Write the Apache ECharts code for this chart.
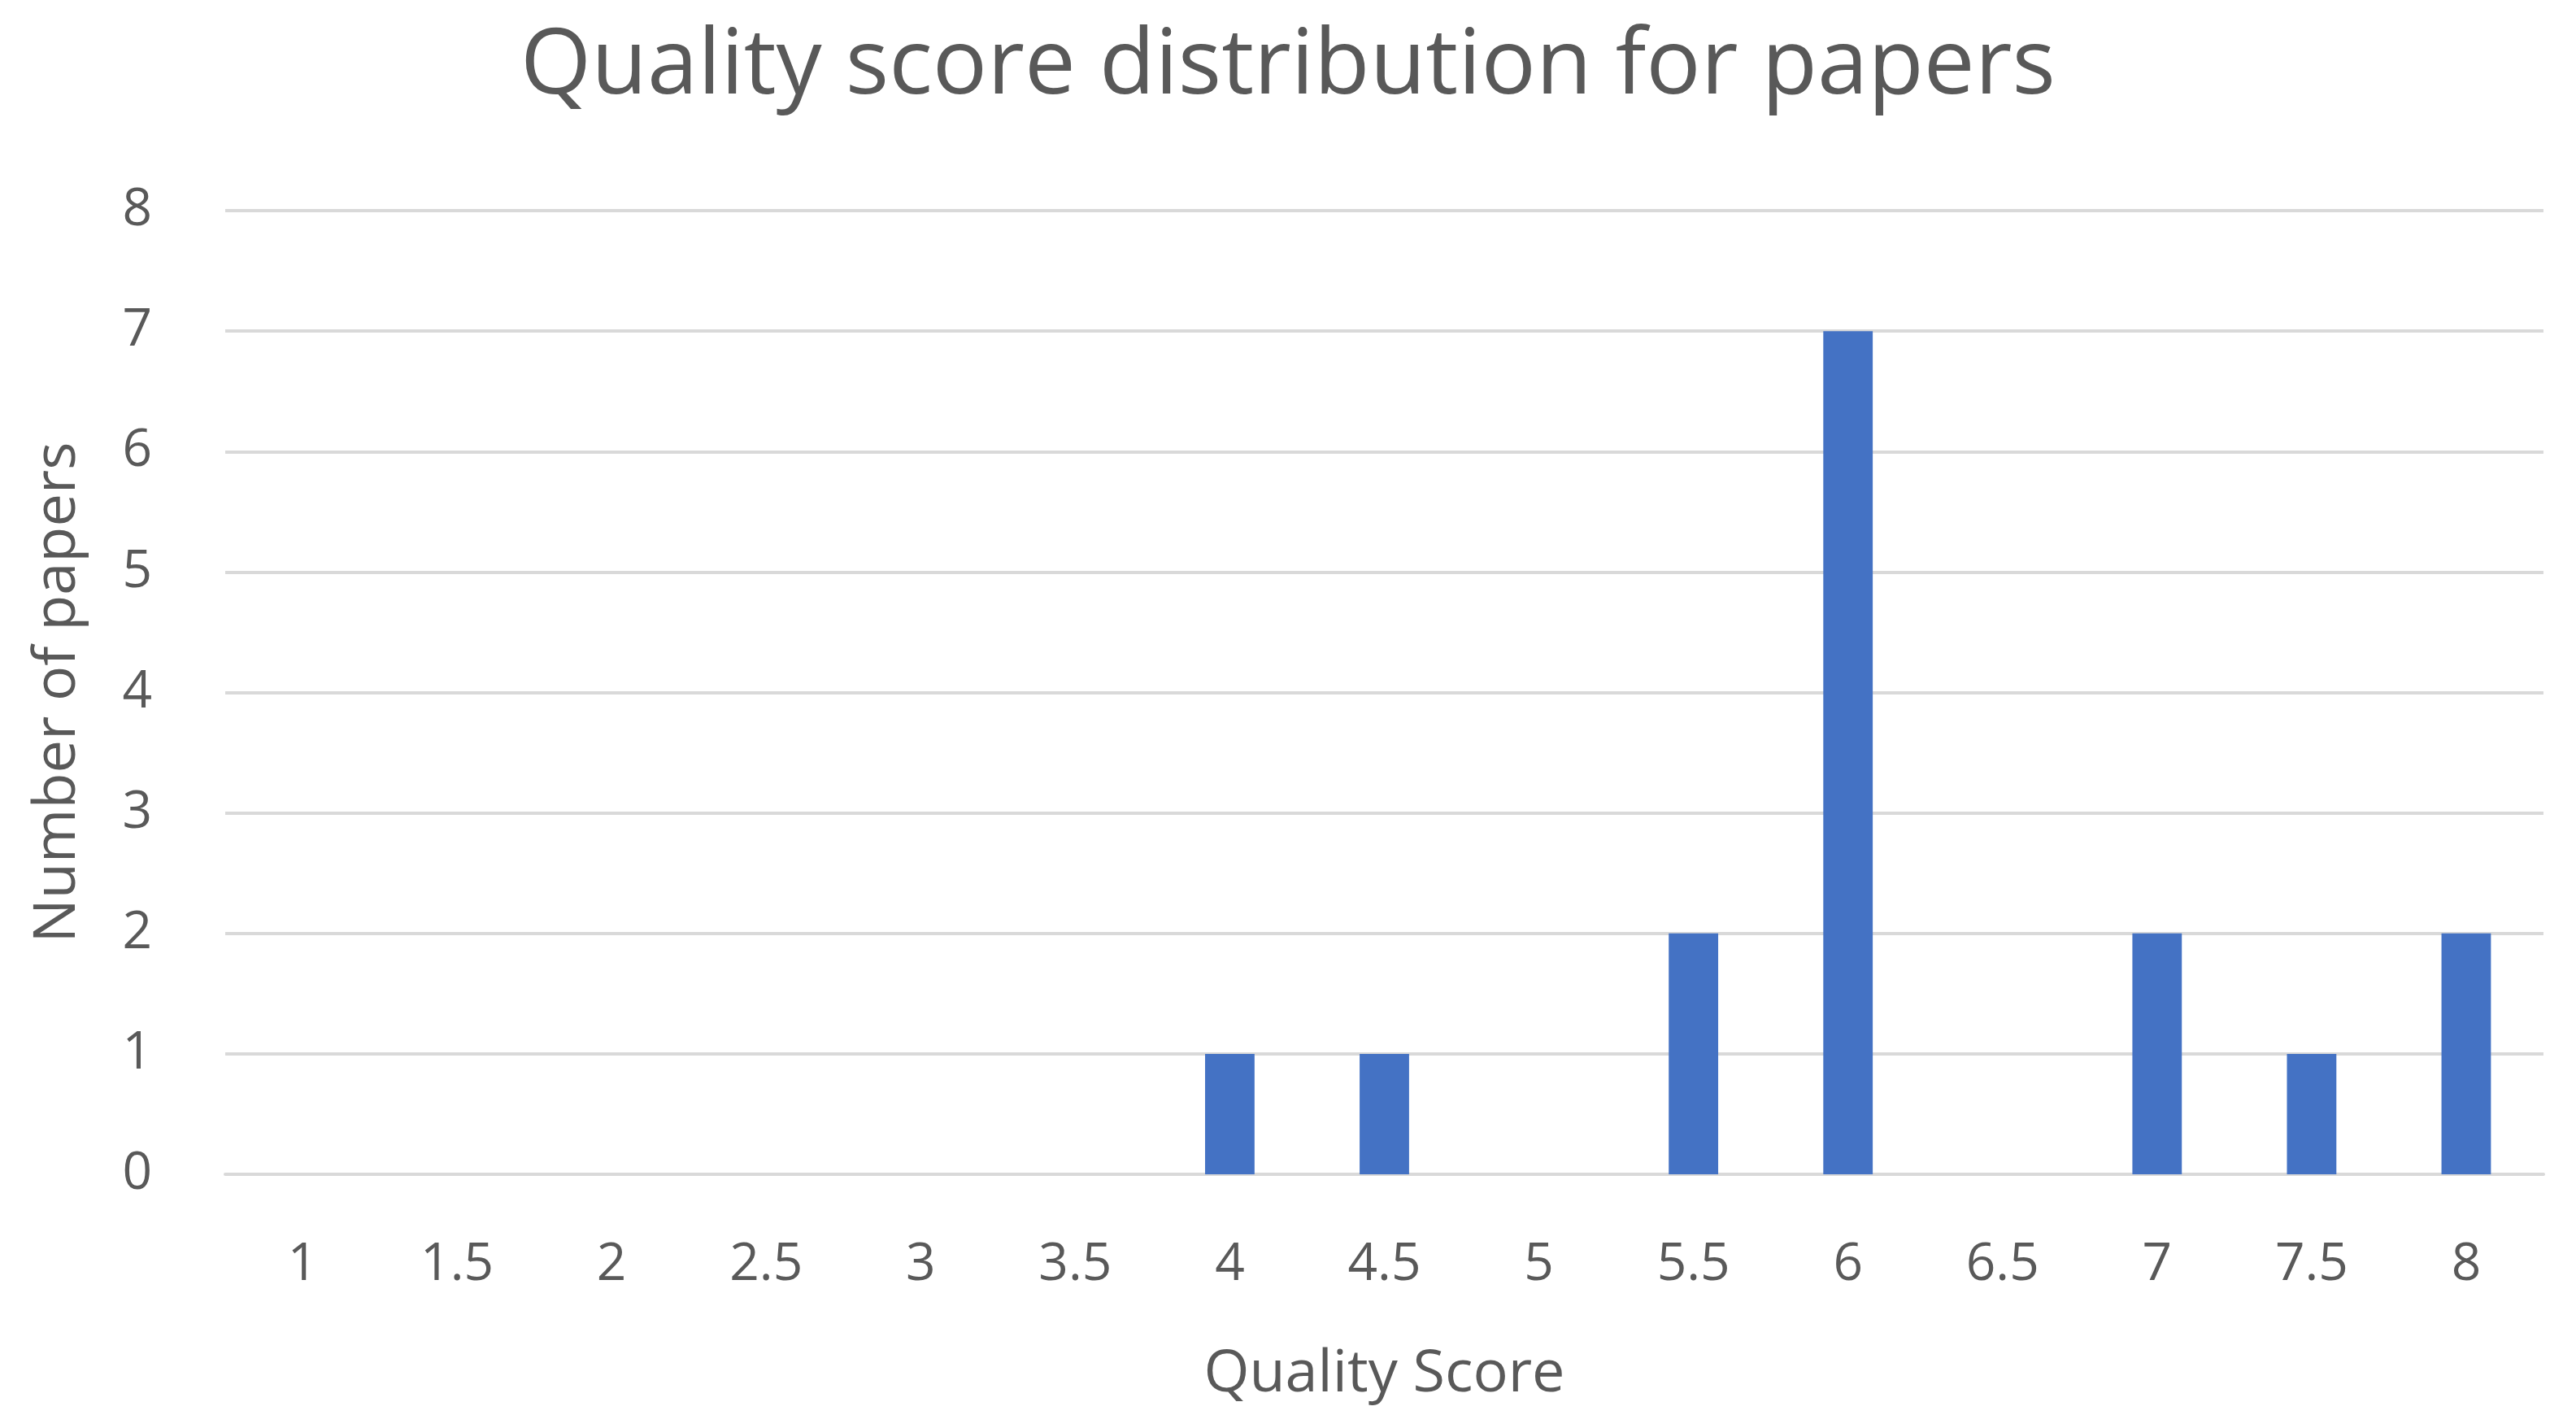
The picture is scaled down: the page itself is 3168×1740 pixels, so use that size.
<!DOCTYPE html>
<html>
<head>
<meta charset="utf-8">
<script src="https://cdn.jsdelivr.net/npm/echarts@6/dist/echarts.min.js"></script>
<style>html,body{margin:0;padding:0;background:#fff}#chart{width:3168px;height:1740px}</style>
</head>
<body>
<div id="chart"></div>
<script>
var scores = ['1', '1.5', '2', '2.5', '3', '3.5', '4', '4.5', '5', '5.5', '6', '6.5', '7', '7.5', '8'];
var papers = [0, 0, 0, 0, 0, 0, 1, 1, 0, 2, 7, 0, 2, 1, 2];
var yTicks = [0, 8, 1];

var chart = echarts.init(document.getElementById('chart'));
chart.setOption({
	textStyle: {fontFamily: 'Open Sans'},
	title: {
		text: 'Quality score distribution for papers',
		left: 'center', top: 22,
		textStyle: {fontSize: 112, fontWeight: 'normal', color: '#595959'}
	},
	grid: {left: 277, right: 40, top: 259, bottom: 296},
	xAxis: {
		type: 'category',
		data: scores,
		name: 'Quality Score',
		nameLocation: 'middle',
		nameGap: 210,
		nameTextStyle: {fontSize: 72, color: '#595959'},
		axisLine: {lineStyle: {color: '#d9d9d9', width: 4}},
		axisTick: {show: false},
		axisLabel: {fontSize: 64, color: '#595959', margin: 80}
	},
	yAxis: {
		type: 'value',
		min: yTicks[0], max: yTicks[1], interval: yTicks[2],
		name: 'Number of papers',
		nameLocation: 'middle',
		nameGap: 170,
		nameTextStyle: {fontSize: 72, color: '#595959'},
		axisLine: {show: false},
		axisTick: {show: false},
		axisLabel: {fontSize: 64, color: '#595959', margin: 90},
		splitLine: {lineStyle: {color: '#d9d9d9', width: 4}}
	},
	series: [{
		type: 'bar',
		data: papers,
		barWidth: '32%',
		itemStyle: {color: '#4472C4'}
	}]
});
</script>
</body>
</html>
